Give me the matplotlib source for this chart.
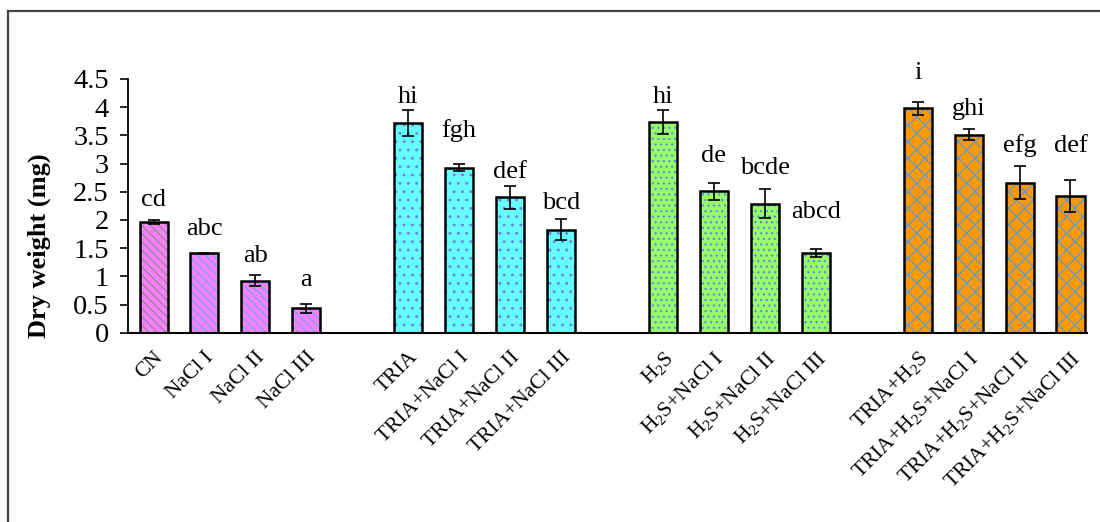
import matplotlib
matplotlib.use("Agg")
import matplotlib.pyplot as plt
from matplotlib.lines import Line2D
from matplotlib.ticker import FuncFormatter, MultipleLocator
import numpy as np

plt.rcParams["font.family"] = ["Liberation Serif", "DejaVu Serif"]
plt.rcParams["mathtext.fontset"] = "custom"
plt.rcParams["mathtext.rm"] = "Liberation Serif"
plt.rcParams["hatch.linewidth"] = 0.9

H2S = r"H$_{\mathregular{2}}$S"

# treatments, four groups of four
labels = [
    "CN", "NaCl I", "NaCl II", "NaCl III",
    "TRIA", "TRIA+NaCl I", "TRIA+NaCl II", "TRIA+NaCl III",
    H2S, H2S + "+NaCl I", H2S + "+NaCl II", H2S + "+NaCl III",
    "TRIA+" + H2S, "TRIA+" + H2S + "+NaCl I", "TRIA+" + H2S + "+NaCl II",
    "TRIA+" + H2S + "+NaCl III",
]
dry_weight = [1.96, 1.41, 0.92, 0.43,
              3.72, 2.93, 2.40, 1.83,
              3.74, 2.51, 2.29, 1.42,
              3.98, 3.51, 2.66, 2.42]
std_err = [0.04, 0.01, 0.10, 0.08,
           0.23, 0.07, 0.20, 0.18,
           0.21, 0.15, 0.25, 0.07,
           0.12, 0.10, 0.29, 0.28]
letters = ["cd", "abc", "ab", "a",
           "hi", "fgh", "def", "bcd",
           "hi", "de", "bcde", "abcd",
           "i", "ghi", "efg", "def"]

# baseline height of each significance letter
letter_y = [2.24, 1.73, 1.26, 0.83,
            4.07, 3.47, 2.74, 2.19,
            4.07, 3.02, 2.81, 2.04,
            4.50, 3.87, 3.21, 3.21]

group_face = ["#FF80FF", "#66FFFF", "#99FF66", "#FF9900"]
group_hatch = ["\\\\\\\\", "..", "...", "xx"]
hatch_col = ["#6AAAE6", "#7080E0", "#5A8AF0", "#5A9BD8"]

x = np.array([g * 5 + i for g in range(4) for i in range(4)], dtype=float)
width = 0.55

fig = plt.figure(figsize=(11, 5.22), dpi=100)
ax = fig.add_axes([0.1164, 0.3626, 0.8716, 0.4861])

for k in range(len(x)):
    g = k // 4
    hc = "#8A8A8A" if k == 0 else hatch_col[g]
    ax.bar(x[k], dry_weight[k], width, color=group_face[g], hatch=group_hatch[g],
           edgecolor=hc, linewidth=0, zorder=2)
ax.bar(x, dry_weight, width, fill=False, edgecolor="black", linewidth=1.8, zorder=3)
ax.errorbar(x, dry_weight, yerr=std_err, fmt="none", ecolor="black",
            elinewidth=1.2, capsize=4.5, capthick=1.2, zorder=4)

for xi, t, ty in zip(x, letters, letter_y):
    ax.text(xi, ty, t, ha="center", va="baseline", fontsize=19)

ax.set_xlim(-0.5, 18.32)
ax.set_ylim(0, 4.5)
ax.yaxis.set_major_locator(MultipleLocator(0.5))
ax.yaxis.set_major_formatter(FuncFormatter(lambda v, p: "%g" % v))
ax.tick_params(axis="y", labelsize=20.5, direction="out", length=5.8, width=1.2, pad=8)

ax.set_xticks(x)
ax.set_xticklabels(labels, rotation=45, ha="right", rotation_mode="anchor", fontsize=15.5)
ax.tick_params(axis="x", length=0, pad=11)

for s in ["top", "right"]:
    ax.spines[s].set_visible(False)
ax.spines["left"].set_linewidth(1.3)
ax.spines["bottom"].set_linewidth(1.5)

ax.set_ylabel("Dry weight (mg)", fontsize=19, fontweight="bold")
ax.yaxis.set_label_coords(-0.080, 0.344)

# outer frame
fig.add_artist(Line2D([8 / 1100, 8 / 1100], [0, 1 - 11 / 522], color="#444444", lw=1.6))
fig.add_artist(Line2D([8 / 1100, 1], [1 - 11 / 522, 1 - 11 / 522], color="#444444", lw=1.6))

fig.savefig("out.png", dpi=100)
